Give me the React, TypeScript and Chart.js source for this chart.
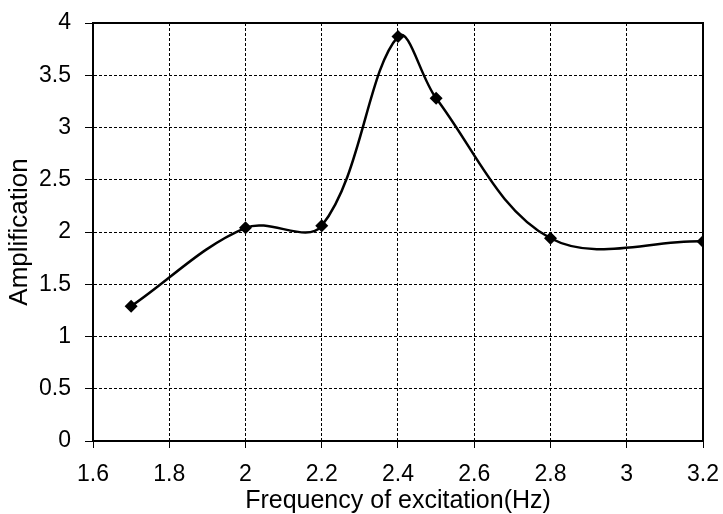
import React, { useEffect, useRef } from "react";
import { Chart, registerables } from "chart.js";

Chart.register(...registerables);

const frequencies = [1.7, 2.0, 2.2, 2.4, 2.5, 2.8, 3.2];
const amplification = [1.29, 2.04, 2.06, 3.87, 3.28, 1.94, 1.91];
const xTickValues = [1.6, 1.8, 2.0, 2.2, 2.4, 2.6, 2.8, 3.0, 3.2];
const xTickLabels = ["1.6", "1.8", "2", "2.2", "2.4", "2.6", "2.8", "3", "3.2"];
const yTickValues = [0, 0.5, 1, 1.5, 2, 2.5, 3, 3.5, 4];
const yTickLabels = ["0", "0.5", "1", "1.5", "2", "2.5", "3", "3.5", "4"];
const xTitle = "Frequency of excitation(Hz)";
const yTitle = "Amplification";

const FONT = "'Liberation Sans', Arial, sans-serif";

const frame = {
  id: "frame",
  beforeDatasetsDraw(chart: any) {
    const { ctx, chartArea } = chart;
    ctx.save();
    ctx.strokeStyle = "#000";
    ctx.lineWidth = 2;
    ctx.setLineDash([]);
    ctx.strokeRect(chartArea.left, chartArea.top, chartArea.right - chartArea.left, chartArea.bottom - chartArea.top);
    ctx.restore();
  },
};

export default function App() {
  const ref = useRef<HTMLCanvasElement | null>(null);
  useEffect(() => {
    document.body.style.margin = "0";
    const canvas = ref.current;
    if (!canvas) return;
    const chart = new Chart(canvas, {
      type: "line",
      data: {
        datasets: [
          {
            data: frequencies.map((f, i) => ({ x: f, y: amplification[i] })),
            borderColor: "#000",
            backgroundColor: "#000",
            borderWidth: 2.5,
            tension: 0.36,
            pointStyle: "rectRot",
            pointRadius: 6.5,
            pointBorderWidth: 0,
            pointBackgroundColor: "#000",
            fill: false,
          },
        ],
      },
      options: {
        animation: false,
        responsive: false,
        devicePixelRatio: 1,
        layout: { padding: { top: 23, right: 20, left: 0, bottom: 0 } },
        plugins: { legend: { display: false }, tooltip: { enabled: false } },
        scales: {
          x: {
            type: "linear",
            min: 1.6,
            max: 3.2,
            afterBuildTicks: (axis: any) => {
              axis.ticks = xTickValues.map((v) => ({ value: v }));
            },
            afterFit: (axis: any) => {
              axis.height = 73;
              axis.paddingLeft = 0;
              axis.paddingRight = 0;
            },
            ticks: {
              color: "#000",
              font: { family: FONT, size: 23 },
              padding: 13,
              maxRotation: 0,
              autoSkip: false,
              callback: (v: any, i: number) => xTickLabels[i],
            },
            grid: {
              color: "#000",
              lineWidth: 1,
              tickLength: 7,
              tickBorderDash: [],
              tickColor: "#000",
              tickWidth: 1,
            },
            border: { display: true, color: "#000", width: 2, dash: [3, 2] },
            title: {
              display: true,
              text: xTitle,
              color: "#000",
              font: { family: FONT, size: 25, lineHeight: 1 },
              padding: { top: 0, bottom: 0 },
            },
          },
          y: {
            type: "linear",
            min: 0,
            max: 4,
            afterBuildTicks: (axis: any) => {
              axis.ticks = yTickValues.map((v) => ({ value: v }));
            },
            afterFit: (axis: any) => {
              axis.width = 93;
              axis.paddingTop = 0;
              axis.paddingBottom = 0;
            },
            ticks: {
              color: "#000",
              font: { family: FONT, size: 23 },
              padding: 14,
              autoSkip: false,
              callback: (v: any, i: number) => yTickLabels[i],
            },
            grid: {
              color: "#000",
              lineWidth: 1,
              tickLength: 8,
              tickBorderDash: [],
              tickColor: "#000",
              tickWidth: 1,
            },
            border: { display: true, color: "#000", width: 2, dash: [3, 2] },
            title: {
              display: true,
              text: yTitle,
              color: "#000",
              font: { family: FONT, size: 26, lineHeight: 1 },
              padding: { top: 7, bottom: 0 },
            },
          },
        },
      },
      plugins: [frame],
    } as any);
    return () => chart.destroy();
  }, []);
  return (
    <div style={{ width: 723, height: 514, position: "relative" }}>
      <canvas ref={ref} width={723} height={514} style={{ display: "block" }} />
    </div>
  );
}
